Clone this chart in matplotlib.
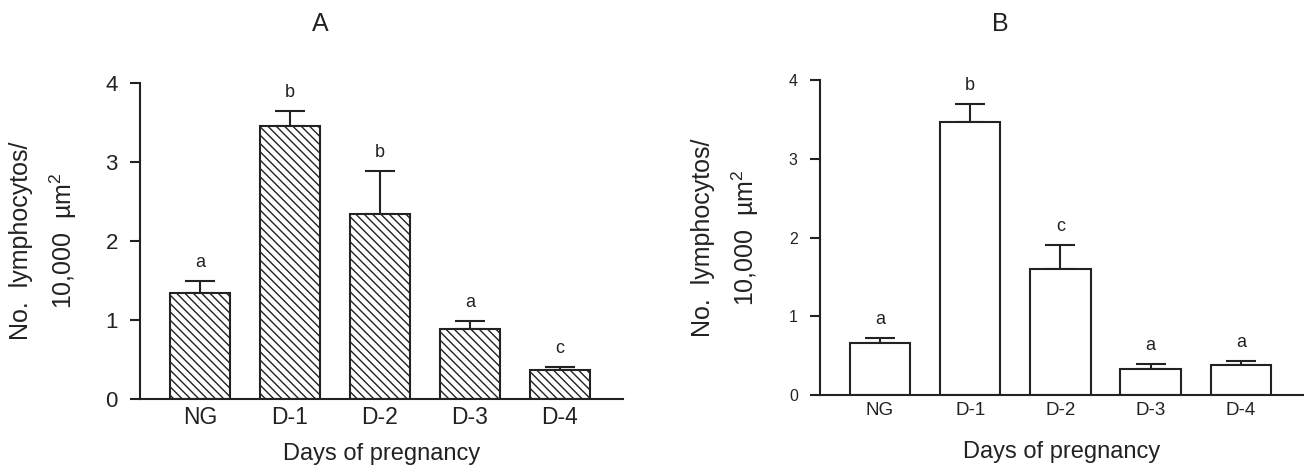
import numpy as np
import matplotlib
matplotlib.use("Agg")
import matplotlib.pyplot as plt

plt.rcParams['font.family'] = ['Liberation Sans', 'DejaVu Sans']
plt.rcParams['mathtext.fontset'] = 'custom'
plt.rcParams['mathtext.rm'] = 'Liberation Sans'
plt.rcParams['mathtext.it'] = 'Liberation Sans'
plt.rcParams['hatch.linewidth'] = 1.0

# data
groups = ['NG', 'D-1', 'D-2', 'D-3', 'D-4']
means_a = [1.34, 3.45, 2.34, 0.89, 0.37]
sem_a = [0.16, 0.20, 0.55, 0.10, 0.04]
letters_a = ['a', 'b', 'b', 'a', 'c']

means_b = [0.66, 3.47, 1.60, 0.33, 0.38]
sem_b = [0.07, 0.23, 0.31, 0.07, 0.05]
letters_b = ['a', 'b', 'c', 'a', 'a']

ink = '#222222'
W, H = 1304, 472
fig = plt.figure(figsize=(W / 100, H / 100), dpi=100)


def panel(rect, means, sem, letters, hatch, title, title_x, ylab_x,
          tick_fs, xtick_fs, xlabelpad):
    l, b, w, h = rect
    ax = fig.add_axes([l / W, b / H, w / W, h / H])
    x = np.arange(len(groups))
    lower = np.zeros(len(means))
    ax.errorbar(x, means, yerr=[lower, sem], fmt='none', ecolor=ink,
                elinewidth=1.5, capsize=11, capthick=1.5, zorder=1)
    ax.bar(x, means, width=0.67, color='white', edgecolor=ink,
           linewidth=1.5, hatch=hatch, zorder=2)
    for xi, m, s, lab in zip(x, means, sem, letters):
        ax.annotate(lab, (xi, m + s), xytext=(0, 7), textcoords='offset points',
                    ha='center', va='bottom', fontsize=13, color=ink)
    ax.set_xlim(-0.665, 4.7)
    ax.set_ylim(0, 4)
    ax.set_yticks([0, 1, 2, 3, 4])
    ax.set_xticks(x)
    ax.set_xticklabels(groups, fontsize=xtick_fs, color=ink)
    ax.tick_params(axis='x', length=0, pad=5)
    ax.tick_params(axis='y', length=7, width=1.5, pad=9, labelsize=tick_fs,
                   colors=ink, direction='out')
    for side in ['top', 'right']:
        ax.spines[side].set_visible(False)
    for side in ['left', 'bottom']:
        ax.spines[side].set_linewidth(1.5)
        ax.spines[side].set_color(ink)
    ax.set_ylabel('No.  lymphocytos/\n10,000  µm$^{2}$', fontsize=18,
                  color=ink, linespacing=1.6, multialignment='center',
                  va='center')
    ax.yaxis.set_label_coords((ylab_x - l) / w, 0.5)
    ax.set_xlabel('Days of pregnancy', fontsize=17, color=ink, labelpad=xlabelpad)
    fig.text(title_x / W, 1 - 24 / H, title, ha='center', va='center',
             fontsize=18, color=ink)
    return ax


panel((140, 73, 483, 316), means_a, sem_a, letters_a, '\\\\\\\\', 'A', 320, 44,
      16, 16.5, 10)
panel((820, 77, 484, 315), means_b, sem_b, letters_b, None, 'B', 1000, 726,
      11.5, 13.5, 16)

fig.savefig('out.png', dpi=100)
